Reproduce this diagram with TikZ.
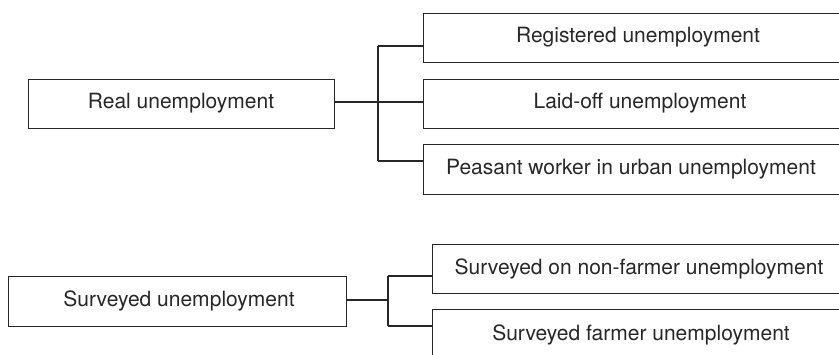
\documentclass[tikz,border=0pt]{standalone}
\usepackage{fontspec}
\setmainfont{TeX Gyre Heros}
\definecolor{ink}{RGB}{40,38,38}
\begin{document}
\begin{tikzpicture}[x=1pt,y=-1pt,
  box/.style={draw=ink,line width=1.4pt,rectangle,inner sep=0pt},
  lbl/.style={text=ink,font=\fontsize{21}{24}\selectfont,inner sep=0pt,anchor=center},
  conn/.style={draw=ink,line width=1.3pt}]
\useasboundingbox (0,0) rectangle (839,355);
\clip (0,0) rectangle (839,355);
% top group
\node[box,minimum width=306pt,minimum height=49pt,anchor=north west] (real) at (28,79) {};
\node[lbl] (realt) at (181,103.5) {Real unemployment};
\node[box,minimum width=440pt,minimum height=49pt,anchor=north west] (reg) at (423,13) {};
\node[lbl] (regt) at (638,37.5) {Registered unemployment};
\node[box,minimum width=440pt,minimum height=49pt,anchor=north west] (lay) at (423,79) {};
\node[lbl] (layt) at (640,103.5) {Laid-off unemployment};
\node[box,minimum width=440pt,minimum height=50pt,anchor=north west] (pea) at (423,144) {};
\node[lbl] (peat) at (631,169) {Peasant worker in urban unemployment};
\coordinate (j1) at (378,102);
\coordinate (j1a) at (378,46);
\coordinate (j1c) at (378,161);
\draw[conn] (real.east |- j1) -- (j1);
\draw[conn] (j1a) -- (j1c);
\draw[conn] (j1a) -- (j1a -| reg.west);
\draw[conn] (j1) -- (j1 -| lay.west);
\draw[conn] (j1c) -- (j1c -| pea.west);
% bottom group
\node[box,minimum width=338pt,minimum height=50pt,anchor=north west] (sur) at (8,276) {};
\node[lbl] (surt) at (179,301) {Surveyed unemployment};
\node[box,minimum width=440pt,minimum height=49pt,anchor=north west] (non) at (432,244) {};
\node[lbl] (nont) at (639,268.5) {Surveyed on non-farmer unemployment};
\node[box,minimum width=440pt,minimum height=50pt,anchor=north west] (far) at (432,309) {};
\node[lbl] (fart) at (641,334.5) {Surveyed farmer unemployment};
\coordinate (j2) at (388,300);
\coordinate (j2a) at (388,276);
\coordinate (j2b) at (388,326);
\draw[conn] (sur.east |- j2) -- (j2);
\draw[conn] (j2a) -- (j2b);
\draw[conn] (j2a) -- (j2a -| non.west);
\draw[conn] (j2b) -- (j2b -| far.west);
\end{tikzpicture}
\end{document}
